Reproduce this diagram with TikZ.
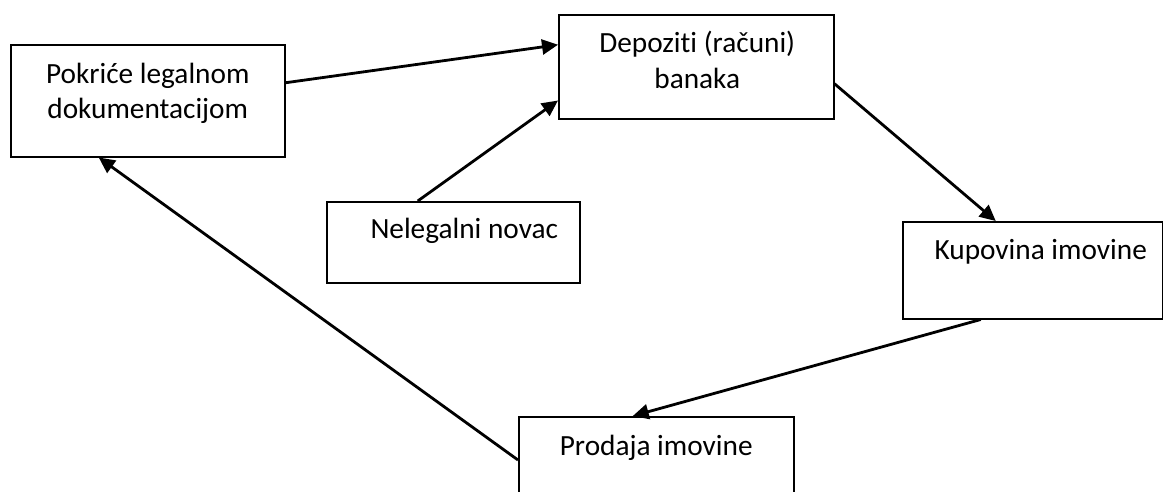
\documentclass[tikz,border=0pt]{standalone}
\usepackage{fontspec}
\setmainfont[Ligatures=NoCommon]{Carlito}
\usetikzlibrary{arrows.meta,positioning}

\begin{document}
\begin{tikzpicture}[x=1pt,y=-1pt,>={Triangle[length=16pt,width=15pt]},line width=2.8pt]
			\tikzstyle{box}=[draw=black,line width=1.5pt,rectangle,inner sep=0pt,anchor=north west]
			\tikzstyle{txt}=[text=black,align=center,anchor=base,inner sep=0pt,font=\fontsize{29.3}{35.5}\selectfont]
			\useasboundingbox (0,0) rectangle (1163,491);
			\clip (0,0) rectangle (1163,491);
			% boxes
			\node[box,minimum width=274pt,minimum height=112pt] (pokrice)   at (10,44)   {};
			\node[box,minimum width=275pt,minimum height=104pt] (depoziti)  at (558,14)  {};
			\node[box,minimum width=253pt,minimum height=81pt]  (nelegalni) at (326,201) {};
			\node[box,minimum width=260pt,minimum height=97pt]  (kupovina)  at (902,221) {};
			\node[box,minimum width=275pt,minimum height=120pt] (prodaja)   at (518,416) {};
			% texts (base of a two-line node sits on its last line)
			\node[txt] (tpokrice)   at ([yshift=-74.5pt]pokrice.north)            {Pokriće legalnom\\dokumentacijom};
			\node[txt] (tdepoziti)  at ([yshift=-74pt,xshift=1pt]depoziti.north)  {Depoziti (računi)\\banaka};
			\node[txt] (tnelegalni) at ([yshift=-37pt,xshift=11pt]nelegalni.north) {Nelegalni novac};
			\node[txt] (tkupovina)  at ([yshift=-38pt,xshift=8pt]kupovina.north)  {Kupovina imovine};
			\node[txt] (tprodaja)   at ([yshift=-39pt]prodaja.north)             {Prodaja imovine};
			% flow
			\draw[->] ([yshift=18pt]pokrice.east) -- ([yshift=22pt]depoziti.west);
			\draw[->] ([xshift=-35.5pt]nelegalni.north) -- ([yshift=19pt]depoziti.south west);
			\draw[->] ([yshift=-17pt]depoziti.east) -- ([xshift=-37pt]kupovina.north);
			\draw[->] ([xshift=-52pt]kupovina.south) -- ([xshift=-23.5pt]prodaja.north);
			\draw[->] ([yshift=-44pt]prodaja.north west) -- ([xshift=-49pt]pokrice.south);
		\end{tikzpicture}
\end{document}
